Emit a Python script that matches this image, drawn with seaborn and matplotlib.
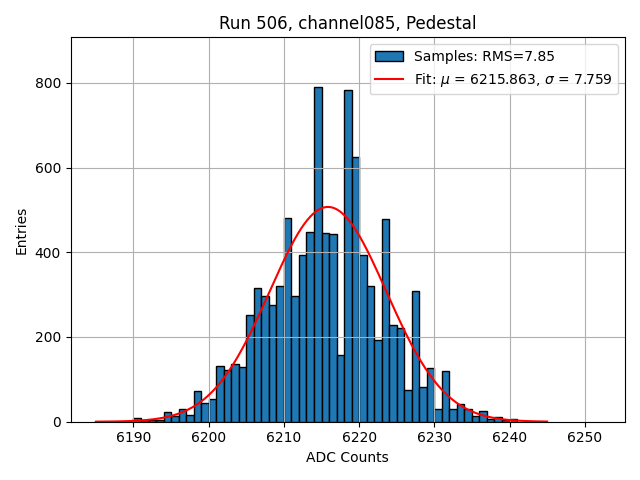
import numpy as np
import pandas as pd
import matplotlib
matplotlib.use("Agg")
import matplotlib.pyplot as plt
import seaborn as sns

# histogram counts per ADC value (bin edges at integers)
adc_start = 6190
counts = [
    9, 3, 4, 5, 23, 13, 30, 17, 72, 44,
    54, 131, 122, 137, 128, 253, 316, 297, 276, 321,
    481, 297, 394, 449, 789, 446, 443, 157, 782, 624,
    393, 320, 192, 478, 228, 221, 74, 309, 83, 126,
    29, 120, 31, 43, 29, 13, 25, 7, 11, 5, 6,
]
fit_mu = 6215.863
fit_sigma = 7.759
rms = 7.85
fit_range = (6185, 6245)

adc_end = adc_start + len(counts)
df = pd.DataFrame({"adc": np.arange(adc_start, adc_end) + 0.5, "count": counts})

fig, ax = plt.subplots(figsize=(6.4, 4.8), dpi=100)
sns.histplot(
    data=df,
    x="adc",
    weights="count",
    binwidth=1,
    binrange=(adc_start, adc_end),
    color="#1f77b4",
    edgecolor="black",
    linewidth=1,
    alpha=1,
    label=f"Samples: RMS={rms:.2f}",
    ax=ax,
)

xs = np.linspace(fit_range[0], fit_range[1], 300)
amp = df["count"].sum() / (fit_sigma * np.sqrt(2 * np.pi))
ys = amp * np.exp(-0.5 * ((xs - fit_mu) / fit_sigma) ** 2)
ax.plot(xs, ys, color="red", lw=1.5,
        label=rf"Fit: $\mu$ = {fit_mu:.3f}, $\sigma$ = {fit_sigma:.3f}")

ax.set_xlim(6181.65, 6255.35)
ax.set_ylim(0, df["count"].max() * 1.15)
ax.set_title("Run 506, channel085, Pedestal")
ax.set_xlabel("ADC Counts")
ax.set_ylabel("Entries")
ax.grid(True)
handles, labels = ax.get_legend_handles_labels()
ax.legend(handles[::-1], labels[::-1], loc="upper right")
fig.tight_layout()
fig.savefig("out.png", dpi=100)
